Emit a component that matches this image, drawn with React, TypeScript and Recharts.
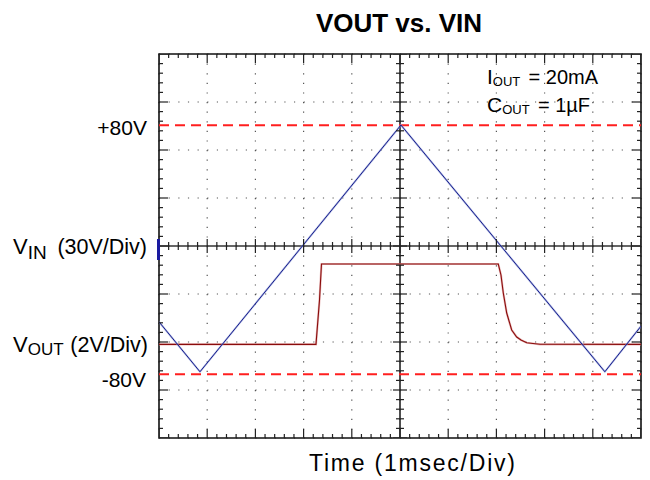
import React from "react";
import {
  ComposedChart,
  Line,
  Scatter,
  XAxis,
  YAxis,
  CartesianGrid,
  ReferenceLine,
  ReferenceArea,
} from "recharts";

// ---- data (x in time divisions 0..10, y in vertical divisions -4..4) ----
const vinTime = [0, 0.85, 5.02, 9.25, 10];
const vinLevel = [-1.58, -2.62, 2.52, -2.62, -1.67];

const voutTime = [0, 3.257, 3.33, 3.371, 7.039, 7.095, 7.143, 7.214, 7.317, 7.421, 7.51, 7.629, 7.759, 7.905, 10];
const voutLevel = [-2.05, -2.05, -1.125, -0.375, -0.375, -0.604, -0.979, -1.396, -1.75, -1.896, -1.958, -2.015, -2.031, -2.048, -2.05];

const plus80Level = 2.515;
const minus80Level = -2.673;

const xDivTicks = [0, 1, 2, 3, 4, 5, 6, 7, 8, 9, 10];
const yDivTicks = [-4, -3, -2, -1, 0, 1, 2, 3, 4];
const xSubTicks = Array.from({ length: 51 }, (_, i) => i / 5);
const ySubTicks = Array.from({ length: 41 }, (_, i) => -4 + i / 5);

const titleText = "VOUT vs. VIN";
const xAxisTitle = "Time (1msec/Div)";

// ---- derived tables ----
const vinData = vinTime.map((x, i) => ({ x, y: vinLevel[i] }));
const voutData = voutTime.map((x, i) => ({ x, y: voutLevel[i] }));
const bottomTicks = xSubTicks.map((x) => ({ x, y: -4 }));
const topTicks = xSubTicks.map((x) => ({ x, y: 4 }));
const centerHTicks = xSubTicks.map((x) => ({ x, y: 0 }));
const leftTicks = ySubTicks.map((y) => ({ x: 0, y }));
const rightTicks = ySubTicks.map((y) => ({ x: 10, y }));
const centerVTicks = ySubTicks.map((y) => ({ x: 5, y }));

const FONT = '"Liberation Sans", Arial, Helvetica, sans-serif';
const TICK_COLOR = "#222";

const isWhole = (v: number) => Math.abs(v - Math.round(v)) < 1e-6;

const tickShape = (dir: string) => (p: any) => {
  const { cx, cy, payload } = p;
  if (cx == null || cy == null) return <g />;
  const horizontalAxis = dir === "up" || dir === "down" || dir === "vboth";
  const v = horizontalAxis ? payload.x : payload.y;
  const major = isWhole(v);
  const len = major ? 9 : 4;
  const half = major ? 7 : 4;
  let x1 = cx, x2 = cx, y1 = cy, y2 = cy;
  if (dir === "up") { y2 = cy - len; }
  else if (dir === "down") { y2 = cy + len; }
  else if (dir === "right") { x2 = cx + len; }
  else if (dir === "left") { x2 = cx - len; }
  else if (dir === "vboth") { y1 = cy - half; y2 = cy + half; }
  else if (dir === "hboth") { x1 = cx - half; x2 = cx + half; }
  return <line x1={x1} y1={y1} x2={x2} y2={y2} stroke={TICK_COLOR} strokeWidth={1.2} />;
};

export default function App() {
  return (
    <div style={{ position: "absolute", left: 0, top: 0, width: 650, height: 480, background: "#fff" }}>
      <ComposedChart
        width={650}
        height={480}
        margin={{ top: 54, right: 9, bottom: 42, left: 159 }}
      >
        <XAxis dataKey="x" type="number" domain={[0, 10]} ticks={xDivTicks} hide allowDataOverflow />
        <YAxis dataKey="y" type="number" domain={[-4, 4]} ticks={yDivTicks} hide allowDataOverflow />
        <CartesianGrid
          horizontal={true}
          vertical={false}
          horizontalValues={yDivTicks}
          stroke="#555"
          strokeWidth={1.2}
          strokeDasharray="1.2 8.44"
        />
        <CartesianGrid
          horizontal={false}
          vertical={true}
          verticalValues={xDivTicks}
          stroke="#555"
          strokeWidth={1.2}
          strokeDasharray="1.2 8.4"
        />
        <ReferenceLine x={5} stroke="#222" strokeWidth={1.6} />
        <ReferenceLine y={0} stroke="#333" strokeWidth={1.6} />
        <ReferenceArea x1={0} x2={10} y1={-4} y2={4} fill="none" fillOpacity={0} stroke="#111" strokeWidth={1.6} />
        <Scatter data={bottomTicks} shape={tickShape("up")} isAnimationActive={false} />
        <Scatter data={topTicks} shape={tickShape("down")} isAnimationActive={false} />
        <Scatter data={leftTicks} shape={tickShape("right")} isAnimationActive={false} />
        <Scatter data={rightTicks} shape={tickShape("left")} isAnimationActive={false} />
        <Scatter data={centerHTicks} shape={tickShape("vboth")} isAnimationActive={false} />
        <Scatter data={centerVTicks} shape={tickShape("hboth")} isAnimationActive={false} />
        <ReferenceLine y={plus80Level} stroke="#ff1f1f" strokeWidth={2} strokeDasharray="10 6" />
        <ReferenceLine y={minus80Level} stroke="#ff1f1f" strokeWidth={2} strokeDasharray="10 6" />
        <Line data={voutData} dataKey="y" type="linear" stroke="#e0a0a0" strokeOpacity={0.7} strokeWidth={2.2} dot={false} isAnimationActive={false} />
        <Line data={voutData} dataKey="y" type="linear" stroke="#8a0c0c" strokeWidth={1.1} dot={false} isAnimationActive={false} />
        <Line data={vinData} dataKey="y" type="linear" stroke="#8595d4" strokeOpacity={0.6} strokeWidth={2} dot={false} isAnimationActive={false} />
        <Line data={vinData} dataKey="y" type="linear" stroke="#1a1f8c" strokeWidth={1} dot={false} isAnimationActive={false} />
      </ComposedChart>
      <svg
        width={650}
        height={480}
        style={{ position: "absolute", left: 0, top: 0, pointerEvents: "none" }}
        fontFamily={FONT}
      >
        <text x={399} y={31.5} textAnchor="middle" fontSize={26} fontWeight="bold" fill="#000">
          {titleText}
        </text>
        <text x={487} y={83.5} fontSize={21} fill="#000">
          I<tspan fontSize={13} dy={2}>OUT</tspan>
        </text>
        <text x={598} y={83.5} textAnchor="end" fontSize={20} fill="#000">= 20mA</text>
        <text x={487} y={111.5} fontSize={21} fill="#000">
          C<tspan fontSize={13} dy={2}>OUT</tspan>
        </text>
        <text x={590} y={111.5} textAnchor="end" fontSize={20} fill="#000">= 1µF</text>

        <text x={147} y={134.5} textAnchor="end" fontSize={21} fill="#000">+80V</text>
        <text x={13} y={254} fontSize={22} fill="#000">
          V<tspan fontSize={19} dy={5}>IN</tspan>
        </text>
        <text x={147} y={254} textAnchor="end" fontSize={21.5} fill="#000">(30V/Div)</text>
        <text x={13} y={352} fontSize={22} fill="#000">
          V<tspan fontSize={17} dy={3}>OUT</tspan>
        </text>
        <text x={148} y={352} textAnchor="end" fontSize={21.5} fill="#000">(2V/Div)</text>
        <text x={146} y={387} textAnchor="end" fontSize={21} fill="#000">-80V</text>
        <rect x={157} y={239} width={3} height={21} fill="#1a1aa0" />

        <text x={309} y={471} fontSize={23} textLength={206} lengthAdjust="spacing" fill="#000">
          {xAxisTitle}
        </text>
      </svg>
    </div>
  );
}
